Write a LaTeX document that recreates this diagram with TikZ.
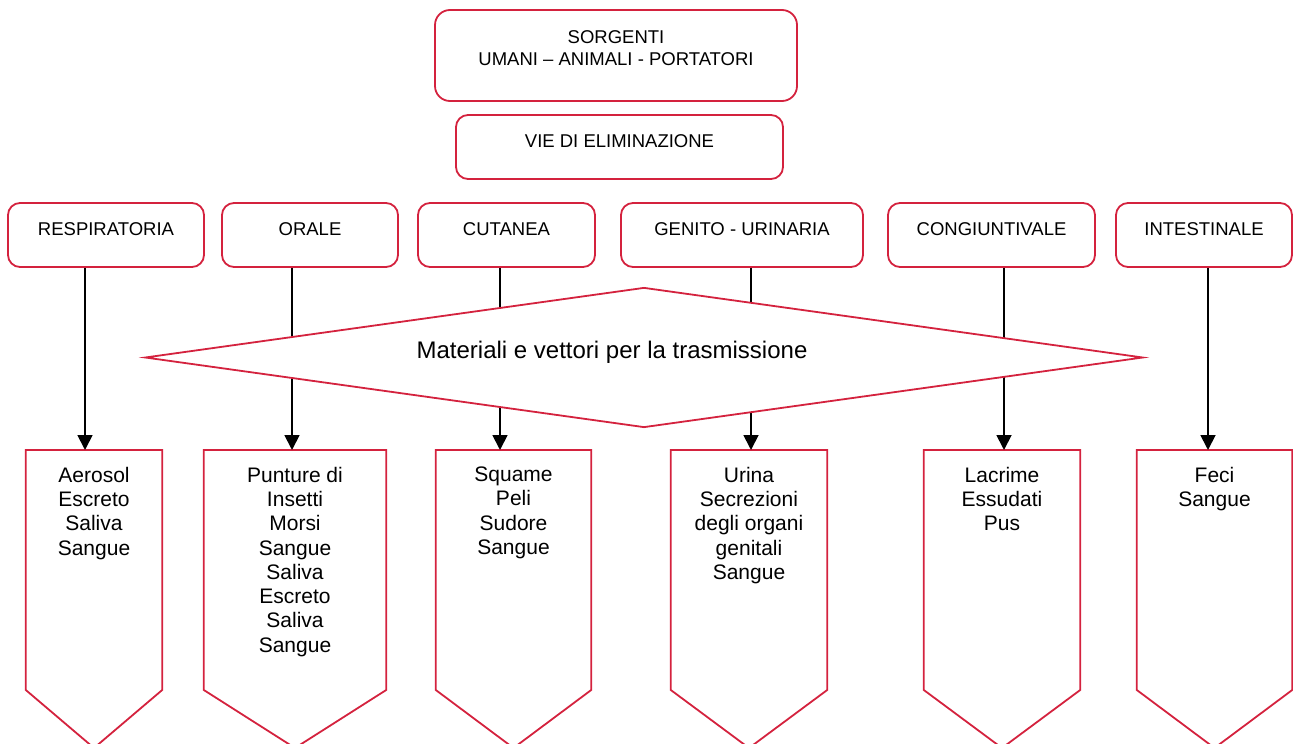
\documentclass[tikz,border=0pt]{standalone}
\usepackage{fontspec}
\setmainfont{Liberation Sans}
\usetikzlibrary{calc,shapes.geometric,arrows.meta}

\definecolor{bordo}{RGB}{212,34,62}

\tikzset{
  viabox/.style={draw=bordo, line width=1.8pt, rounded corners=12pt, align=center,
    font=\fontsize{18.5}{21.7}\selectfont, inner sep=0pt, text height=13.5pt, text depth=13pt},
  materiale/.style={anchor=north, align=center, inner xsep=0pt, inner ysep=16.7pt,
    font=\fontsize{21}{24.3}\selectfont},
  freccia/.style={line width=1.8pt, -{Triangle[width=15pt,length=15pt]}},
  bordo rosso/.style={draw=bordo, line width=1.8pt}
}

\begin{document}
\begin{tikzpicture}[x=1pt,y=-1pt]
\useasboundingbox (0,0) rectangle (1293,744);

% sorgenti e vie di eliminazione
\node[viabox, rounded corners=15pt, minimum width=362pt, minimum height=91pt, text height=35.2pt, text depth=16.2pt] (sorg) at (616,55.5) {SORGENTI\\UMANI -- ANIMALI - PORTATORI};
\node[viabox, minimum width=327pt, minimum height=64pt] (vie) at (619.5,147) {VIE DI ELIMINAZIONE};

% le sei vie
\node[viabox, minimum width=196pt, minimum height=64pt] (resp) at (106,235) {RESPIRATORIA};
\node[viabox, minimum width=176pt, minimum height=64pt] (orale) at (310,235) {ORALE};
\node[viabox, minimum width=177pt, minimum height=64pt] (cut) at (506.5,235) {CUTANEA};
\node[viabox, minimum width=242pt, minimum height=64pt] (gen) at (742,235) {GENITO - URINARIA};
\node[viabox, minimum width=207pt, minimum height=64pt] (con) at (991.5,235) {CONGIUNTIVALE};
\node[viabox, minimum width=176pt, minimum height=64pt] (int) at (1204,235) {INTESTINALE};

% materiali
\node[materiale, minimum width=136pt] (respM) at (94,450) {Aerosol\\Escreto\\Saliva\\Sangue};
\node[materiale, minimum width=182pt] (oraM) at (295,450) {Punture di\\Insetti\\Morsi\\Sangue\\Saliva\\Escreto\\Saliva\\Sangue};
\node[materiale, minimum width=155pt] (cutM) at (513.5,450) {Squame\\Peli\\Sudore\\Sangue};
\node[materiale, minimum width=156pt] (genM) at (749,450) {Urina\\Secrezioni\\degli organi\\genitali\\Sangue};
\node[materiale, minimum width=156pt] (conM) at (1002,450) {Lacrime\\Essudati\\Pus};
\node[materiale, minimum width=155pt] (intM) at (1214.5,450) {Feci\\Sangue};

\foreach \m in {respM,oraM,cutM,genM,conM,intM}
  \draw[bordo rosso] (\m.north west) -- (\m.north east) -- ++(0,240) -- ($(\m.north)+(0,298)$) -- ($(\m.north west)+(0,240)$) -- cycle;

% frecce
\foreach \v/\m/\x in {resp/respM/85, orale/oraM/292, cut/cutM/500, gen/genM/751, con/conM/1004, int/intM/1208}
  \draw[freccia] (\x,0 |- \v.south) -- (\x,0 |- \m.north);

% rombo centrale
\node[bordo rosso, fill=white, diamond, aspect=7, minimum width=998pt, minimum height=140pt, inner sep=0pt] (mat) at (644,357.5) {};
\node[anchor=base, font=\fontsize{24}{28}\selectfont] (matT) at (612,358) {Materiali e vettori per la trasmissione};
\end{tikzpicture}
\end{document}
